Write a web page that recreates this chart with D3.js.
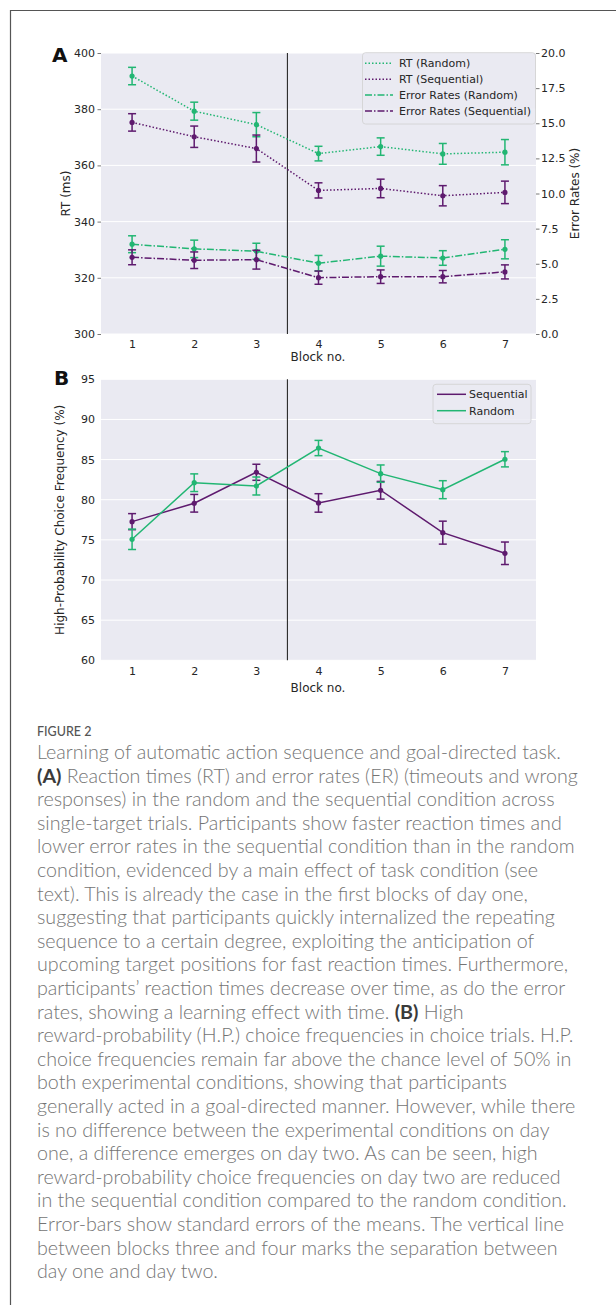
<!DOCTYPE html>
<html lang="en">

<head>
    <meta charset="UTF-8">
    <title>Figure 2</title>
    <script src="https://d3js.org/d3.v7.min.js"></script>
    <style>
        body {
            margin: 0;
            background: white;
        }

        svg {
            display: block;
        }

        .plot text {
            font-family: "DejaVu Sans", sans-serif;
            fill: #262626;
        }

        .caption text {
            font-family: Lato, "Open Sans", sans-serif;
            fill: #747474;
        }
    </style>
</head>

<body>
    <div id="chart"></div>
    <script>
        /*-------------------------------------------------------*/
        /*------------------------ data -------------------------*/
        /*-------------------------------------------------------*/
        const blocks = [1, 2, 3, 4, 5, 6, 7];

        // panel A, reaction times (ms)
        const rtRandom = [391.8, 379.3, 374.5, 364.2, 366.7, 364.1, 364.7];
        const rtRandomErr = [3.1, 3.2, 4.3, 2.6, 3.1, 3.7, 4.5];
        const rtSequential = [375.3, 370.2, 366.0, 351.1, 351.8, 349.2, 350.4];
        const rtSequentialErr = [3.1, 3.8, 4.8, 2.7, 3.3, 3.6, 4.0];

        // panel A, error rates (%)
        const erRandom = [6.39, 6.06, 5.89, 5.04, 5.54, 5.41, 6.03];
        const erRandomErr = [0.6, 0.62, 0.57, 0.55, 0.71, 0.52, 0.68];
        const erSequential = [5.46, 5.25, 5.29, 4.01, 4.08, 4.08, 4.42];
        const erSequentialErr = [0.53, 0.59, 0.67, 0.47, 0.48, 0.44, 0.5];

        // panel B, high-probability choice frequency (%)
        const hpSequential = [77.27, 79.56, 83.42, 79.6, 81.18, 75.9, 73.33];
        const hpSequentialErr = [1.0, 1.1, 1.0, 1.15, 1.1, 1.43, 1.4];
        const hpRandom = [75.07, 82.12, 81.71, 86.44, 83.25, 81.25, 85.04];
        const hpRandomErr = [1.27, 1.1, 1.12, 0.95, 1.08, 1.12, 0.95];

        // ticks
        const rtTicks = [300, 320, 340, 360, 380, 400];
        const erTicks = [0, 2.5, 5, 7.5, 10, 12.5, 15, 17.5, 20];
        const hpTicks = [60, 65, 70, 75, 80, 85, 90, 95];

        const legendA = ["RT (Random)", "RT (Sequential)", "Error Rates (Random)", "Error Rates (Sequential)"];
        const legendB = ["Sequential", "Random"];

        const captionTitle = "FIGURE 2";
        const captionLines = [
            "Learning of automatic action sequence and goal-directed task.",
            "(A) Reaction times (RT) and error rates (ER) (timeouts and wrong",
            "responses) in the random and the sequential condition across",
            "single-target trials. Participants show faster reaction times and",
            "lower error rates in the sequential condition than in the random",
            "condition, evidenced by a main effect of task condition (see",
            "text). This is already the case in the first blocks of day one,",
            "suggesting that participants quickly internalized the repeating",
            "sequence to a certain degree, exploiting the anticipation of",
            "upcoming target positions for fast reaction times. Furthermore,",
            "participants\u2019 reaction times decrease over time, as do the error",
            "rates, showing a learning effect with time. (B) High",
            "reward-probability (H.P.) choice frequencies in choice trials. H.P.",
            "choice frequencies remain far above the chance level of 50% in",
            "both experimental conditions, showing that participants",
            "generally acted in a goal-directed manner. However, while there",
            "is no difference between the experimental conditions on day",
            "one, a difference emerges on day two. As can be seen, high",
            "reward-probability choice frequencies on day two are reduced",
            "in the sequential condition compared to the random condition.",
            "Error-bars show standard errors of the means. The vertical line",
            "between blocks three and four marks the separation between",
            "day one and day two."
        ];

        /*-------------------------------------------------------*/
        /*---------------------- settings -----------------------*/
        /*-------------------------------------------------------*/
        const W = 616, H = 1305;
        const green = "#22b673";
        const purple = "#5e1a6e";
        const bg = "#eaeaf2";
        const dotted = "1.5,2";
        const dashDot = "7,2,1.5,2";
        const fs = "11px";      // ticks and legends
        const labelFs = "12px"; // axis titles

        const plotA = { left: 101, right: 536, top: 53, bottom: 334 };
        const plotB = { left: 101, right: 536, top: 379.3, bottom: 660.3 };

        const svg = d3.select("#chart").append("svg")
            .attr("width", W)
            .attr("height", H);

        // frame round the figure
        svg.append("path")
            .attr("d", `M10.5,${H} V10.5 H${W}`)
            .attr("fill", "none")
            .attr("stroke", "#555")
            .attr("stroke-width", 1.2);

        /*-------------------------------------------------------*/
        /*----------------------- scales ------------------------*/
        /*-------------------------------------------------------*/
        const xA = d3.scaleLinear().domain([0.5, 7.5]).range([plotA.left, plotA.right]);
        const yRT = d3.scaleLinear().domain([300, 400]).range([plotA.bottom, plotA.top]);
        const yER = d3.scaleLinear().domain([0, 20]).range([plotA.bottom, plotA.top]);
        const xB = d3.scaleLinear().domain([0.5, 7.5]).range([plotB.left, plotB.right]);
        const yHP = d3.scaleLinear().domain([60, 95]).range([plotB.bottom, plotB.top]);

        /*-------------------------------------------------------*/
        /*---------------------- helpers ------------------------*/
        /*-------------------------------------------------------*/
        function drawSeries(g, x, y, values, errs, color, dash) {
            const pts = blocks.map((b, i) => ({ b: b, v: values[i], e: errs[i] }));
            const line = d3.line().x(d => x(d.b)).y(d => y(d.v));

            g.append("path")
                .datum(pts)
                .attr("d", line)
                .attr("fill", "none")
                .attr("stroke", color)
                .attr("stroke-width", 1.5)
                .attr("stroke-dasharray", dash);

            const bars = g.append("g").selectAll("g")
                .data(pts)
                .enter()
                .append("g")
                .attr("stroke", color)
                .attr("stroke-width", 1.5);
            bars.append("line")
                .attr("x1", d => x(d.b)).attr("x2", d => x(d.b))
                .attr("y1", d => y(d.v - d.e)).attr("y2", d => y(d.v + d.e));
            bars.append("line")
                .attr("x1", d => x(d.b) - 4).attr("x2", d => x(d.b) + 4)
                .attr("y1", d => y(d.v + d.e)).attr("y2", d => y(d.v + d.e));
            bars.append("line")
                .attr("x1", d => x(d.b) - 4).attr("x2", d => x(d.b) + 4)
                .attr("y1", d => y(d.v - d.e)).attr("y2", d => y(d.v - d.e));

            g.append("g").selectAll("circle")
                .data(pts)
                .enter()
                .append("circle")
                .attr("cx", d => x(d.b))
                .attr("cy", d => y(d.v))
                .attr("r", 2.6)
                .attr("fill", color);
        }

        function drawFrame(g, plot, x, y, ticks) {
            g.append("rect")
                .attr("x", plot.left)
                .attr("y", plot.top)
                .attr("width", plot.right - plot.left)
                .attr("height", plot.bottom - plot.top)
                .attr("fill", bg);

            // white horizontal grid
            g.append("g")
                .selectAll("line")
                .data(ticks)
                .enter()
                .append("line")
                .attr("x1", plot.left).attr("x2", plot.right)
                .attr("y1", d => y(d)).attr("y2", d => y(d))
                .attr("stroke", "white")
                .attr("stroke-width", 1);

            // day one / day two separator
            g.append("line")
                .attr("x1", x(3.5)).attr("x2", x(3.5))
                .attr("y1", plot.top).attr("y2", plot.bottom)
                .attr("stroke", "#2b2b2b")
                .attr("stroke-width", 1.1);
        }

        function styleAxis(sel) {
            sel.select(".domain").remove();
            sel.attr("font-size", null).attr("font-family", null);
            sel.selectAll(".tick line").attr("stroke", "#555").attr("stroke-width", 0.8);
            sel.selectAll(".tick text")
                .style("font-size", fs)
                .style("fill", "#262626");
        }

        function drawLegend(g, x0, y0, w, items, rowY, lineX1, lineX2, textX) {
            g.append("rect")
                .attr("x", x0).attr("y", y0)
                .attr("width", w).attr("height", rowY(items.length - 1) - y0 + 13)
                .attr("rx", 3)
                .attr("fill", bg)
                .attr("fill-opacity", 0.85)
                .attr("stroke", "#d0d0d0")
                .attr("stroke-width", 0.8);
            items.forEach((it, i) => {
                g.append("line")
                    .attr("x1", lineX1).attr("x2", lineX2)
                    .attr("y1", rowY(i)).attr("y2", rowY(i))
                    .attr("stroke", it.color)
                    .attr("stroke-width", 1.5)
                    .attr("stroke-dasharray", it.dash);
                g.append("text")
                    .attr("x", textX)
                    .attr("y", rowY(i) + 4)
                    .style("font-size", fs)
                    .text(it.label);
            });
        }

        /*-------------------------------------------------------*/
        /*----------------------- panel A -----------------------*/
        /*-------------------------------------------------------*/
        const gA = svg.append("g").attr("class", "plot");
        drawFrame(gA, plotA, xA, yRT, rtTicks);

        drawSeries(gA, xA, yRT, rtRandom, rtRandomErr, green, dotted);
        drawSeries(gA, xA, yRT, rtSequential, rtSequentialErr, purple, dotted);
        drawSeries(gA, xA, yER, erRandom, erRandomErr, green, dashDot);
        drawSeries(gA, xA, yER, erSequential, erSequentialErr, purple, dashDot);

        gA.append("g")
            .attr("transform", `translate(${plotA.left},0)`)
            .call(d3.axisLeft(yRT).tickValues(rtTicks).tickSize(3.5).tickPadding(2.5))
            .call(styleAxis);
        gA.append("g")
            .attr("transform", `translate(${plotA.right},0)`)
            .call(d3.axisRight(yER).tickValues(erTicks).tickFormat(d3.format(".1f")).tickSize(3.5).tickPadding(1.5))
            .call(styleAxis);
        gA.append("g")
            .attr("transform", `translate(0,${plotA.bottom})`)
            .call(d3.axisBottom(xA).tickValues(blocks).tickFormat(d3.format("d")).tickSize(0).tickPadding(6))
            .call(styleAxis);

        gA.append("text")
            .attr("x", (plotA.left + plotA.right) / 2 - 0.5)
            .attr("y", 361)
            .attr("text-anchor", "middle")
            .style("font-size", labelFs)
            .text("Block no.");
        gA.append("text")
            .attr("transform", `translate(70,${(plotA.top + plotA.bottom) / 2}) rotate(-90)`)
            .attr("text-anchor", "middle")
            .style("font-size", labelFs)
            .text("RT (ms)");
        gA.append("text")
            .attr("transform", `translate(579,${(plotA.top + plotA.bottom) / 2}) rotate(-90)`)
            .attr("text-anchor", "middle")
            .style("font-size", labelFs)
            .text("Error Rates (%)");
        gA.append("text")
            .attr("x", 52)
            .attr("y", 62)
            .style("font-size", "20px")
            .attr("font-weight", "bold")
            .style("fill", "#111")
            .text("A");

        drawLegend(gA, 362.5, 52.7, 173,
            [
                { label: legendA[0], color: green, dash: dotted },
                { label: legendA[1], color: purple, dash: dotted },
                { label: legendA[2], color: green, dash: dashDot },
                { label: legendA[3], color: purple, dash: dashDot }
            ],
            i => 63.3 + i * 15.9, 365, 393, 399);

        /*-------------------------------------------------------*/
        /*----------------------- panel B -----------------------*/
        /*-------------------------------------------------------*/
        const gB = svg.append("g").attr("class", "plot");
        drawFrame(gB, plotB, xB, yHP, hpTicks);

        drawSeries(gB, xB, yHP, hpSequential, hpSequentialErr, purple, null);
        drawSeries(gB, xB, yHP, hpRandom, hpRandomErr, green, null);

        gB.append("g")
            .attr("transform", `translate(${plotB.left},0)`)
            .call(d3.axisLeft(yHP).tickValues(hpTicks).tickSize(0).tickPadding(6))
            .call(styleAxis);
        gB.append("g")
            .attr("transform", `translate(0,${plotB.bottom})`)
            .call(d3.axisBottom(xB).tickValues(blocks).tickFormat(d3.format("d")).tickSize(0).tickPadding(6.5))
            .call(styleAxis);

        gB.append("text")
            .attr("x", (plotB.left + plotB.right) / 2 - 0.5)
            .attr("y", 692)
            .attr("text-anchor", "middle")
            .style("font-size", labelFs)
            .text("Block no.");
        gB.append("text")
            .attr("transform", `translate(64,${(plotB.top + plotB.bottom) / 2}) rotate(-90)`)
            .attr("text-anchor", "middle")
            .style("font-size", labelFs)
            .text("High-Probability Choice Frequency (%)");
        gB.append("text")
            .attr("x", 54)
            .attr("y", 385)
            .style("font-size", "20px")
            .attr("font-weight", "bold")
            .style("fill", "#111")
            .text("B");

        drawLegend(gB, 433, 384.3, 98,
            [
                { label: legendB[0], color: purple, dash: null },
                { label: legendB[1], color: green, dash: null }
            ],
            i => 394.3 + i * 16.4, 437, 466, 469);

        /*-------------------------------------------------------*/
        /*----------------------- caption -----------------------*/
        /*-------------------------------------------------------*/
        const cap = svg.append("g").attr("class", "caption");

        cap.append("text")
            .attr("x", 37)
            .attr("y", 735.5)
            .style("font-size", "12.5px")
            .style("font-weight", 500)
            .style("fill", "#555")
            .text(captionTitle);

        const capLines = cap.append("g").style("font-size", "17px").style("font-weight", 300);
        captionLines.forEach((line, i) => {
            const t = capLines.append("text")
                .attr("x", 37)
                .attr("y", 759 + i * 23.6);
            line.split(/(\(A\)|\(B\))/).filter(s => s.length).forEach(s => {
                const bold = s === "(A)" || s === "(B)";
                t.append("tspan")
                    .text(s)
                    .style("font-weight", bold ? 700 : null)
                    .style("fill", bold ? "#3a3a3a" : null);
            });
        });

        // scale the caption font so the second line fills the column like the original
        const measured = capLines.selectAll("text").nodes()[1].getComputedTextLength();
        capLines.style("font-size", (17 * 541 / measured).toFixed(2) + "px");
    </script>
</body>

</html>
